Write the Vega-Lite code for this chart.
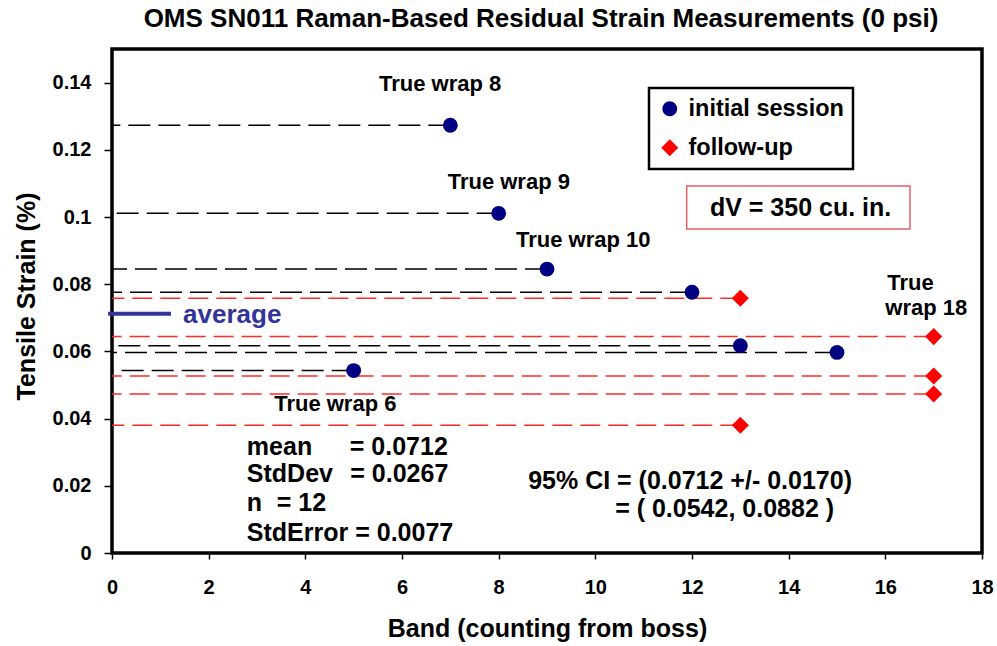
{
  "$schema": "https://vega.github.io/schema/vega-lite/v6.json",
  "width": 870,
  "height": 504,
  "autosize": {"type": "none"},
  "padding": {"left": 112, "top": 49, "right": 15, "bottom": 93},
  "background": "white",
  "title": {
    "text": "OMS SN011 Raman-Based Residual Strain Measurements  (0 psi)",
    "fontSize": 26, "fontWeight": "bold", "font": "Liberation Sans", "color": "black",
    "anchor": "middle", "offset": 17, "dx": -6
  },
  "datasets": {
    "pts": [
      {"bx": 7, "sy": 0.1273, "session": "initial session"},
      {"bx": 8, "sy": 0.1011, "session": "initial session"},
      {"bx": 9, "sy": 0.0845, "session": "initial session"},
      {"bx": 12, "sy": 0.0776, "session": "initial session"},
      {"bx": 13, "sy": 0.0617, "session": "initial session"},
      {"bx": 15, "sy": 0.0597, "session": "initial session"},
      {"bx": 5, "sy": 0.0543, "session": "initial session"},
      {"bx": 13, "sy": 0.0758, "session": "follow-up"},
      {"bx": 17, "sy": 0.0644, "session": "follow-up"},
      {"bx": 17, "sy": 0.0527, "session": "follow-up"},
      {"bx": 17, "sy": 0.0473, "session": "follow-up"},
      {"bx": 13, "sy": 0.038, "session": "follow-up"}
    ],
    "avg": [{"bx": -0.08, "bx2": 1.22, "sy": 0.0712}],
    "box": [{"bx": 11.89, "bx2": 16.51, "sy": 0.1092, "sy2": 0.0964}],
    "notes": [
      {"bx": 6.79, "sy": 0.1396, "label": "True wrap 8", "kind": "wrap"},
      {"bx": 8.21, "sy": 0.1105, "label": "True wrap 9", "kind": "wrap"},
      {"bx": 9.75, "sy": 0.0932, "label": "True wrap 10", "kind": "wrap"},
      {"bx": 4.62, "sy": 0.0443, "label": "True wrap 6", "kind": "wrap"},
      {"bx": 16.04, "sy": 0.0803, "label": "True", "kind": "wrapL"},
      {"bx": 16.0, "sy": 0.0728, "label": "wrap 18", "kind": "wrapL"},
      {"bx": 2.79, "sy": 0.0316, "label": "mean", "kind": "stats"},
      {"bx": 4.92, "sy": 0.0316, "label": "= 0.0712", "kind": "stats"},
      {"bx": 2.79, "sy": 0.0235, "label": "StdDev", "kind": "stats"},
      {"bx": 4.93, "sy": 0.0235, "label": "= 0.0267", "kind": "stats"},
      {"bx": 2.79, "sy": 0.0148, "label": "n", "kind": "stats"},
      {"bx": 3.41, "sy": 0.0148, "label": "= 12", "kind": "stats"},
      {"bx": 2.79, "sy": 0.006, "label": "StdError = 0.0077", "kind": "stats"},
      {"bx": 8.61, "sy": 0.0215, "label": "95% CI = (0.0712 +/- 0.0170)", "kind": "stats"},
      {"bx": 10.41, "sy": 0.013, "label": "= ( 0.0542, 0.0882 )", "kind": "stats"},
      {"bx": 12.37, "sy": 0.1026, "label": "dV = 350 cu. in.", "kind": "dv"},
      {"bx": 1.47, "sy": 0.0708, "label": "average", "kind": "avg"}
    ]
  },
  "encoding": {
    "x": {
      "field": "bx", "type": "quantitative",
      "scale": {"domain": [0, 18], "nice": false, "zero": false},
      "axis": {"title": "Band (counting from boss)", "values": [0, 2, 4, 6, 8, 10, 12, 14, 16, 18], "format": "d"}
    },
    "y": {
      "field": "sy", "type": "quantitative",
      "scale": {"domain": [0, 0.15], "nice": false},
      "axis": {"title": "Tensile Strain (%)", "values": [0, 0.02, 0.04, 0.06, 0.08, 0.1, 0.12, 0.14], "format": "~g", "titleY": 247}
    }
  },
  "layer": [
    {
      "data": {"name": "pts"},
      "transform": [{"filter": "datum.session === 'initial session'"}],
      "mark": {"type": "rule", "color": "black", "strokeWidth": 1.5, "strokeDash": [22, 8]},
      "encoding": {"x2": {"datum": 0}}
    },
    {
      "data": {"name": "pts"},
      "transform": [{"filter": "datum.session === 'follow-up'"}],
      "mark": {"type": "rule", "color": "#ff2a2a", "strokeWidth": 1.5, "strokeDash": [20, 8]},
      "encoding": {"x2": {"datum": 0}}
    },
    {
      "data": {"name": "avg"},
      "mark": {"type": "rule", "color": "#333399", "strokeWidth": 4},
      "encoding": {"x2": {"field": "bx2"}}
    },
    {
      "data": {"name": "box"},
      "mark": {"type": "rect", "fill": null, "fillOpacity": 0, "stroke": "#e8606a", "strokeWidth": 1.5},
      "encoding": {"x2": {"field": "bx2"}, "y2": {"field": "sy2"}}
    },
    {
      "data": {"name": "pts"},
      "mark": {"type": "point", "filled": true, "opacity": 1, "strokeWidth": 0},
      "encoding": {
        "color": {
          "field": "session", "type": "nominal",
          "scale": {"domain": ["initial session", "follow-up"], "range": ["#000080", "#ff0000"]},
          "legend": {"title": null, "orient": "none", "legendX": 537, "legendY": 39, "strokeColor": "black", "padding": 9}
        },
        "shape": {
          "field": "session", "type": "nominal",
          "scale": {"domain": ["initial session", "follow-up"], "range": ["circle", "diamond"]},
          "legend": {"title": null, "orient": "none", "legendX": 537, "legendY": 39, "strokeColor": "black", "padding": 9}
        },
        "size": {
          "field": "session", "type": "nominal",
          "scale": {"domain": ["initial session", "follow-up"], "range": [220, 290]},
          "legend": null
        }
      }
    },
    {
      "data": {"name": "notes"},
      "transform": [{"filter": "datum.kind === 'wrap'"}],
      "mark": {"type": "text", "align": "center", "baseline": "middle", "fontSize": 22, "fontWeight": "bold", "font": "Liberation Sans", "color": "black"},
      "encoding": {"text": {"field": "label"}}
    },
    {
      "data": {"name": "notes"},
      "transform": [{"filter": "datum.kind === 'wrapL'"}],
      "mark": {"type": "text", "align": "left", "baseline": "middle", "fontSize": 22, "fontWeight": "bold", "font": "Liberation Sans", "color": "black"},
      "encoding": {"text": {"field": "label"}}
    },
    {
      "data": {"name": "notes"},
      "transform": [{"filter": "datum.kind === 'stats'"}],
      "mark": {"type": "text", "align": "left", "baseline": "middle", "fontSize": 25, "fontWeight": "bold", "font": "Liberation Sans", "color": "black"},
      "encoding": {"text": {"field": "label"}}
    },
    {
      "data": {"name": "notes"},
      "transform": [{"filter": "datum.kind === 'dv'"}],
      "mark": {"type": "text", "align": "left", "baseline": "middle", "fontSize": 25, "fontWeight": "bold", "font": "Liberation Sans", "color": "black"},
      "encoding": {"text": {"field": "label"}}
    },
    {
      "data": {"name": "notes"},
      "transform": [{"filter": "datum.kind === 'avg'"}],
      "mark": {"type": "text", "align": "left", "baseline": "middle", "fontSize": 26, "fontWeight": "bold", "font": "Liberation Sans", "color": "#333399"},
      "encoding": {"text": {"field": "label"}}
    }
  ],
  "config": {
    "font": "Liberation Sans",
    "view": {"stroke": "black", "strokeWidth": 3.5},
    "axis": {
      "domain": false, "grid": false, "ticks": true, "tickColor": "black", "tickWidth": 1.5,
      "labelFont": "Liberation Sans", "labelFontWeight": "bold", "labelFontSize": 20, "labelColor": "black",
      "labelFlush": false, "labelOverlap": false, "labelBound": false,
      "titleFont": "Liberation Sans", "titleFontWeight": "bold", "titleFontSize": 25, "titleColor": "black"
    },
    "axisX": {"tickSize": 6, "labelPadding": 18, "titlePadding": 19},
    "axisY": {"tickSize": 8, "labelPadding": 13, "titlePadding": 13},
    "legend": {
      "labelFont": "Liberation Sans", "labelFontSize": 23.5, "labelFontWeight": "bold", "labelColor": "black",
      "symbolSize": 240, "symbolStrokeWidth": 0, "symbolOpacity": 1, "rowPadding": 14, "labelOffset": 7,
      "strokeWidth": 2.5
    }
  }
}
